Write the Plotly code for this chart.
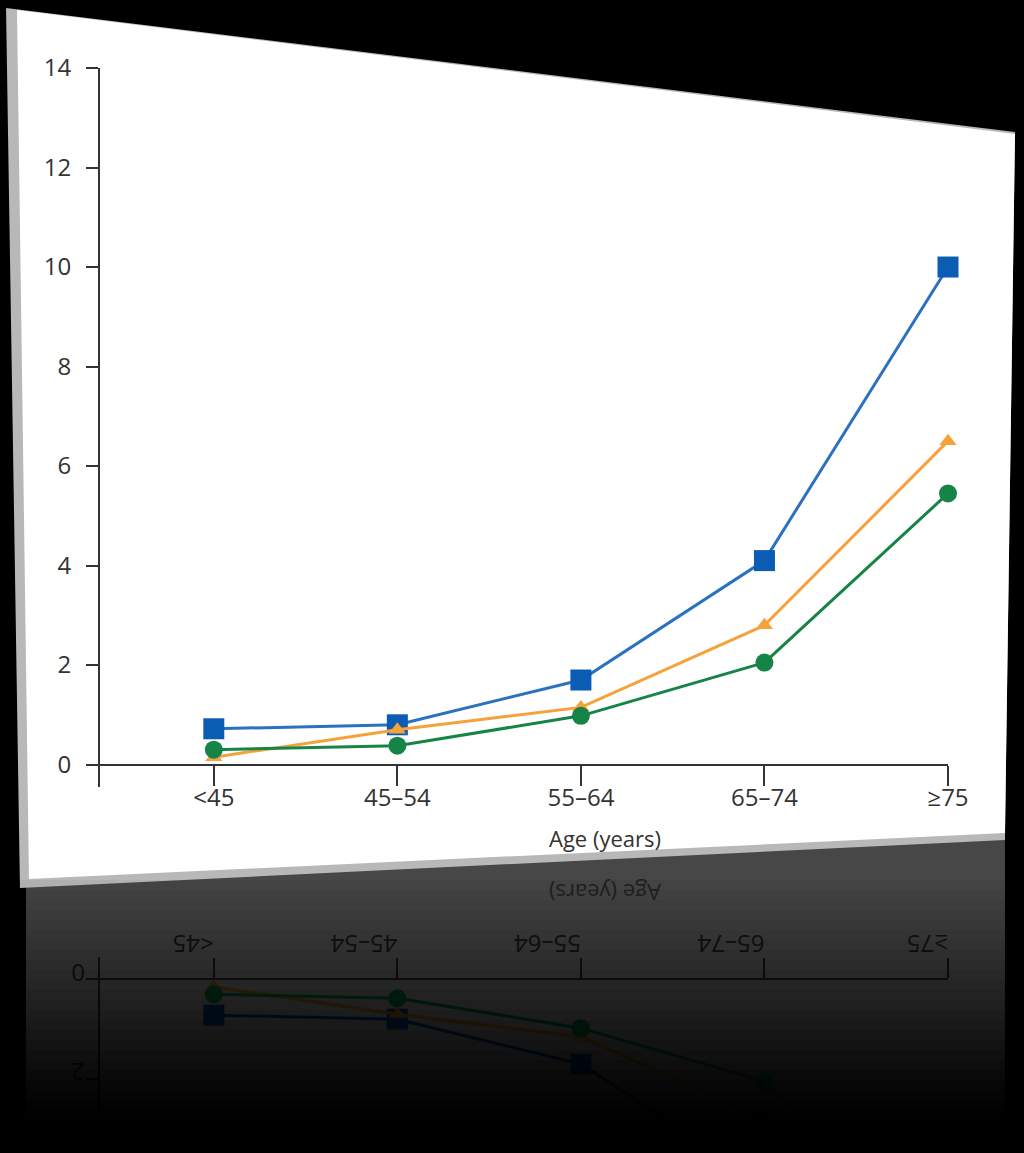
import plotly.graph_objects as go

# ---- data ----
ages = ["<45", "45–54", "55–64", "65–74", "≥75"]
blue_vals = [0.72, 0.80, 1.70, 4.10, 10.0]
orange_vals = [0.15, 0.70, 1.15, 2.80, 6.50]
green_vals = [0.30, 0.38, 0.98, 2.05, 5.45]
y_ticks = [0, 2, 4, 6, 8, 10, 12, 14]

W, H = 1024, 1153


def px(x):
    return x / W


def py(y):
    return 1 - y / H


def path(pts):
    return "M " + " L ".join(f"{px(a):.4f},{py(b):.4f}" for a, b in pts) + " Z"


BLUE, BLUE_M = "#2a72c0", "#0b5cb3"
ORANGE = "#f6a13a"
GREEN = "#168447"
AX = "#333333"
FONT = "Open Sans"

# reflection (dimmed) colours
R_BLUE, R_ORANGE, R_GREEN, R_AX = "#0a2440", "#4a3212", "#0a3a1e", "#151515"

fig = go.Figure()

series = [
    (blue_vals, BLUE, BLUE_M, "square", 21, R_BLUE),
    (orange_vals, ORANGE, ORANGE, "triangle-up", 15, R_ORANGE),
    (green_vals, GREEN, GREEN, "circle", 18, R_GREEN),
]

# reflection traces first (drawn underneath)
for vals, lc, mc, sym, sz, rc in series:
    fig.add_trace(go.Scatter(
        x=ages, y=vals, xaxis="x2", yaxis="y2", mode="lines+markers",
        line=dict(color=rc, width=3),
        marker=dict(symbol=sym, size=sz, color=rc),
        showlegend=False, hoverinfo="skip"))

for vals, lc, mc, sym, sz, rc in series:
    fig.add_trace(go.Scatter(
        x=ages, y=vals, mode="lines+markers", cliponaxis=False,
        line=dict(color=lc, width=3),
        marker=dict(symbol=sym, size=sz, color=mc),
        showlegend=False))

# geometry
x_dom = [px(100), px(948)]
y_top, y_bot = 68, 787          # pixel rows of y=14 and y=-0.45
y_min, y_max = -0.45, 14
ppu = (y_bot - y_top) / (y_max - y_min)
y_zero = y_bot - (0 - y_min) * ppu
M = 872                          # mirror line for reflection
r_top = 2 * M - y_bot
r_bottom_val = y_min + (H - r_top) / ppu

P = dict(xref="paper", yref="paper")
shapes = []
# reflection base area
shapes.append(dict(type="path", path=path([(26, 838), (1005, 838), (1005, 1153), (26, 1153)]),
                   fillcolor="#474747", line=dict(width=0), layer="below", **P))
# card bevel + white card
shapes.append(dict(type="path", path=path([(6, 8), (1015, 132), (1005, 840), (20, 888)]),
                   fillcolor="#b8b8b8", line=dict(width=0), layer="below", **P))
shapes.append(dict(type="path", path=path([(17, 10), (1015, 134), (1005, 833), (29, 879)]),
                   fillcolor="#ffffff", line=dict(width=0), layer="below", **P))


# fade of the reflection: stacked bands, each reaching the bottom
def bright(yy):
    return min(1.0, max(0.0, 1 - (yy - 875) / 250))


prev = 1.0
y = 880
while y < H:
    cur = bright(y + 6)
    alpha = 1.0 if cur <= 0 else 1 - cur / prev
    if alpha > 0:
        shapes.append(dict(type="rect", x0=0, x1=1, y0=0, y1=py(y),
                           fillcolor="black", opacity=min(alpha, 1.0),
                           line=dict(width=0), layer="above", **P))
    if cur <= 0:
        break
    prev = cur
    y += 10

tickfont = dict(family=FONT, size=24, color=AX)
rfont = dict(family=FONT, size=24, color=R_AX)

fig.update_layout(
    width=W, height=H,
    margin=dict(l=0, r=0, t=0, b=0, autoexpand=False),
    paper_bgcolor="black", plot_bgcolor="rgba(0,0,0,0)",
    showlegend=False,
    xaxis=dict(domain=x_dom, type="category", range=[-0.62, 4],
               anchor="free", position=py(y_zero),
               showline=True, linecolor=AX, linewidth=2,
               ticks="outside", ticklen=20, tickwidth=2, tickcolor=AX,
               ticklabelstandoff=-8,
               tickfont=tickfont, showgrid=False, zeroline=False, fixedrange=True),
    yaxis=dict(domain=[py(y_bot), py(y_top)], range=[y_min, y_max],
               tickvals=y_ticks, showline=True, linecolor=AX, linewidth=2,
               ticks="outside", ticklen=12, tickwidth=2, tickcolor=AX,
               ticklabelstandoff=10,
               tickfont=tickfont, showgrid=False, zeroline=False, fixedrange=True),
    xaxis2=dict(domain=x_dom, type="category", range=[-0.62, 4],
                anchor="free", position=py(2 * M - y_zero), side="top",
                showline=True, linecolor=R_AX, linewidth=2,
                ticks="outside", ticklen=20, tickwidth=2, tickcolor=R_AX,
                ticklabelstandoff=-10,
                tickangle=180, tickfont=rfont, showgrid=False, zeroline=False),
    yaxis2=dict(domain=[0, py(r_top)], range=[r_bottom_val, y_min], anchor="x2",
                tickvals=[0, 2], showline=True, linecolor=R_AX, linewidth=2,
                ticks="outside", ticklen=12, tickwidth=2, tickcolor=R_AX,
                ticklabelstandoff=10,
                tickangle=180, tickfont=rfont, showgrid=False, zeroline=False),
    shapes=shapes,
    annotations=[
        dict(text="Age (years)", x=px(605), y=py(838), xref="paper", yref="paper",
             xanchor="center", yanchor="middle",
             showarrow=False, font=dict(family=FONT, size=22, color=AX)),
        dict(text="Age (years)", x=px(605), y=py(893), xref="paper", yref="paper",
             xanchor="center", yanchor="middle",
             showarrow=False, textangle=180, font=dict(family=FONT, size=22, color="#1e1e1e")),
    ],
)

fig.write_html(
    "out.html",
    config={"displayModeBar": False},
    post_script=(
        "document.documentElement.style.margin='0';"
        "document.body.style.margin='0';"
        "document.body.style.background='black';"
        "document.body.style.overflow='hidden';"
        "var d=document.getElementById('{plot_id}');"
        "d.style.position='fixed';d.style.left='0px';d.style.top='0px';"
    ),
)
